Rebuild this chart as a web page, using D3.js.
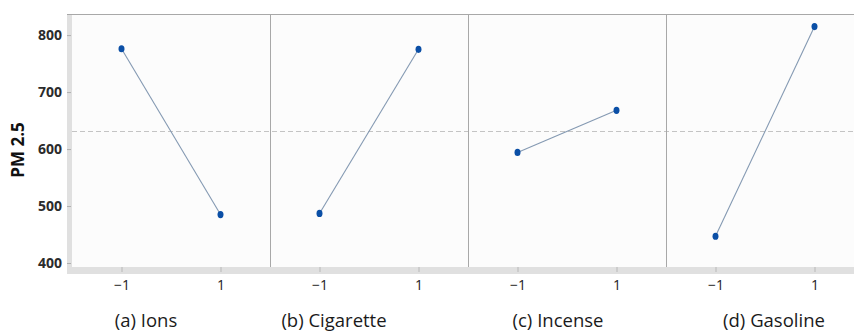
<!DOCTYPE html>
<html>
<head>
<meta charset="utf-8">
<script src="https://cdn.jsdelivr.net/npm/d3@7/dist/d3.min.js"></script>
<style>
  html, body { margin: 0; padding: 0; background: #fff; }
  svg { display: block; }
</style>
</head>
<body>
<svg id="chart" width="854" height="333"></svg>
<script>
// Main effects of each factor on PM 2.5 (coded levels −1 / 1)
const factors = ["(a) Ions", "(b) Cigarette", "(c) Incense", "(d) Gasoline"];
const levels = [-1, 1];
const levelLabels = ["\u22121", "1"];
const pmLow  = [776, 487, 594, 447];   // mean PM 2.5 at level −1
const pmHigh = [485, 775, 668, 815];   // mean PM 2.5 at level 1
const grandMean = 631;
const yTicks = [400, 500, 600, 700, 800];

const svg = d3.select("#chart");
const W = 854, H = 333;

const plotLeft = 72, plotTop = 14, plotBottom = 267;
const panelW = 198;

const y = d3.scaleLinear().domain([393, 837]).range([plotBottom, plotTop]);
const panelX = d3.scaleBand().domain(factors).range([plotLeft, plotLeft + panelW * factors.length]).paddingInner(0).paddingOuter(0);
const x = d3.scaleLinear().domain([-2, 2]).range([0, panelW]);

// plot background
svg.append("rect")
  .attr("x", plotLeft).attr("y", plotTop)
  .attr("width", panelW * factors.length).attr("height", plotBottom - plotTop)
  .attr("fill", "#fcfcfc");

// axis bars (light grey gutters along left and bottom)
svg.append("rect").attr("x", plotLeft - 5).attr("y", plotTop).attr("width", 5).attr("height", plotBottom - plotTop + 7).attr("fill", "#e0e0e0");
svg.append("rect").attr("x", plotLeft - 5).attr("y", plotBottom).attr("width", W).attr("height", 7).attr("fill", "#e0e0e0");

// top border
svg.append("line")
  .attr("x1", plotLeft - 5).attr("x2", W).attr("y1", plotTop + 0.5).attr("y2", plotTop + 0.5)
  .attr("stroke", "#a8a8a8").attr("stroke-width", 1);

// grand mean reference
svg.append("line")
  .attr("x1", plotLeft).attr("x2", W)
  .attr("y1", Math.round(y(grandMean)) + 0.5).attr("y2", Math.round(y(grandMean)) + 0.5)
  .attr("stroke", "#c4c4c4").attr("stroke-width", 1).attr("stroke-dasharray", "5,3");

// panel dividers
factors.slice(1).forEach(f => {
  const px = Math.round(panelX(f)) + 0.5;
  svg.append("line").attr("x1", px).attr("x2", px).attr("y1", plotTop).attr("y2", plotBottom)
    .attr("stroke", "#a8a8a8").attr("stroke-width", 1);
});

// y axis
const yAxis = d3.axisLeft(y).tickValues(yTicks).tickSize(4).tickPadding(5);
const gy = svg.append("g").attr("transform", `translate(${plotLeft - 1},0)`).call(yAxis);
gy.select(".domain").remove();
gy.selectAll(".tick line").attr("stroke", "#b0b0b0");
gy.selectAll(".tick text")
  .attr("font-family", "'Open Sans', sans-serif").attr("font-size", 14).attr("font-weight", "bold")
  .attr("fill", "#2b2b2b").attr("x", -9);

svg.append("text")
  .attr("transform", "translate(24,150) rotate(-90)")
  .attr("text-anchor", "middle")
  .attr("font-family", "'Open Sans', sans-serif").attr("font-size", 17).attr("font-weight", "bold")
  .attr("fill", "#111")
  .text("PM 2.5");

// panels
factors.forEach((f, i) => {
  const g = svg.append("g").attr("transform", `translate(${panelX(f)},0)`);
  const xAxis = d3.axisBottom(x).tickValues(levels).tickFormat((d, k) => levelLabels[k]).tickSize(5).tickPadding(7);
  const gx = g.append("g").attr("transform", `translate(0,${plotBottom + 1})`).call(xAxis);
  gx.select(".domain").remove();
  gx.selectAll(".tick line").attr("stroke", "#b8b8b8").attr("transform", "translate(0,-1)");
  gx.selectAll(".tick text")
    .attr("font-family", "'Open Sans', sans-serif").attr("font-size", 14)
    .attr("fill", "#222");

  const pts = [[levels[0], pmLow[i]], [levels[1], pmHigh[i]]];
  g.append("path")
    .attr("d", d3.line().x(d => x(d[0])).y(d => y(d[1]))(pts))
    .attr("fill", "none").attr("stroke", "#8499b2").attr("stroke-width", 1.1);
  g.selectAll("ellipse.pt").data(pts).join("ellipse")
    .attr("class", "pt")
    .attr("cx", d => x(d[0])).attr("cy", d => y(d[1]))
    .attr("rx", 3).attr("ry", 3.6)
    .attr("fill", "#0b4fa6");
});

// factor captions
const captionX = [146, 334, 558, 774];
svg.selectAll("text.caption").data(factors).join("text")
  .attr("class", "caption")
  .attr("x", (d, i) => captionX[i]).attr("y", 327)
  .attr("text-anchor", "middle")
  .attr("font-family", "'Open Sans', sans-serif").attr("font-size", 18.5)
  .attr("fill", "#1a1a1a")
  .text(d => d);
</script>
</body>
</html>
